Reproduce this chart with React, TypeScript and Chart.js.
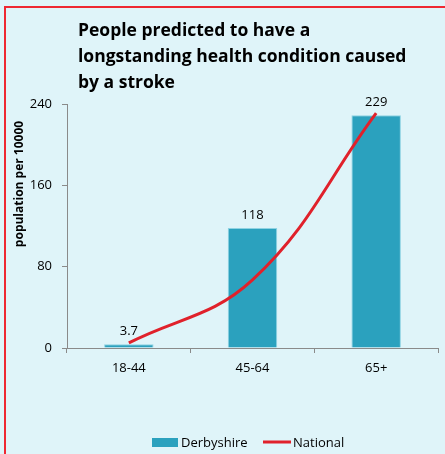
import React, { useEffect, useRef } from "react";
import { Chart, registerables } from "chart.js";

Chart.register(...registerables);

const categories = ["18-44", "45-64", "65+"];
const derbyshire = [3.7, 118, 229];
const national = [5, 67, 231];
const dataLabels = ["3.7", "118", "229"];
const titleLines = ["People predicted to have a", "longstanding health condition caused", "by a stroke"];
const yTitle = "population per 10000";
const yTicks = [0, 80, 160, 240];

const BAR = "#2ba1be";
const LINE = "#e0212b";
const FONT = "'Open Sans', Lato, sans-serif";

const overlay = {
  id: "overlay",
  afterDraw(chart: any) {
    const ctx = chart.ctx;
    ctx.save();
    // title
    ctx.fillStyle = "#000";
    ctx.font = `bold 17.5px ${FONT}`;
    ctx.textAlign = "left";
    ctx.textBaseline = "alphabetic";
    titleLines.forEach((t, i) => ctx.fillText(t, 78, 36 + i * 26));
    // y title
    ctx.save();
    ctx.translate(20, 184);
    ctx.rotate(-Math.PI / 2);
    ctx.font = `bold 12px ${FONT}`;
    ctx.textAlign = "center";
    ctx.textBaseline = "middle";
    ctx.fillText(yTitle, 0, 0);
    ctx.restore();
    // data labels
    const meta = chart.getDatasetMeta(0);
    ctx.font = `13px ${FONT}`;
    ctx.textAlign = "center";
    ctx.textBaseline = "alphabetic";
    meta.data.forEach((bar: any, i: number) => {
      ctx.fillText(dataLabels[i], bar.x, bar.y - 9);
    });
    // legend
    ctx.fillStyle = BAR;
    ctx.fillRect(152, 438, 26, 9);
    ctx.fillStyle = "#000";
    ctx.textAlign = "left";
    ctx.fillText("Derbyshire", 181, 447);
    ctx.strokeStyle = LINE;
    ctx.lineWidth = 3;
    ctx.beginPath();
    ctx.moveTo(263, 442);
    ctx.lineTo(291, 442);
    ctx.stroke();
    ctx.fillText("National", 293, 447);
    ctx.restore();
  },
};

export default function App() {
  const ref = useRef<HTMLCanvasElement>(null);
  useEffect(() => {
    const chart = new Chart(ref.current!, {
      type: "bar",
      data: {
        labels: categories,
        datasets: [
          {
            type: "bar",
            label: "Derbyshire",
            data: derbyshire,
            backgroundColor: BAR,
            borderColor: "#8fd3e3",
            borderWidth: 1,
            barPercentage: 0.4,
            categoryPercentage: 1,
            order: 2,
          },
          {
            type: "line",
            label: "National",
            data: national,
            borderColor: LINE,
            borderWidth: 3,
            pointRadius: 0,
            tension: 0.4,
            fill: false,
            order: 1,
          },
        ],
      },
      options: {
        responsive: false,
        animation: false,
        devicePixelRatio: 1,
        layout: { padding: { left: 0, top: 104, right: 7, bottom: 66 } },
        plugins: { legend: { display: false }, title: { display: false }, tooltip: { enabled: false } },
        scales: {
          x: {
            offset: true,
            grid: { drawOnChartArea: false, tickLength: 5, color: "#8a8a8a", offset: true },
            border: { color: "#8a8a8a" },
            ticks: { color: "#000", font: { family: FONT, size: 13 }, padding: 7 },
            afterFit(scale: any) {
              scale.height = 40;
            },
          },
          y: {
            min: 0,
            max: 240,
            afterBuildTicks(scale: any) {
              scale.ticks = yTicks.map((v) => ({ value: v }));
            },
            grid: { drawOnChartArea: false, tickLength: 5, color: "#8a8a8a" },
            border: { color: "#8a8a8a" },
            ticks: { color: "#000", font: { family: FONT, size: 13 }, padding: 10 },
            afterFit(scale: any) {
              scale.width = 67;
            },
          },
        },
      },
      plugins: [overlay],
    });
    return () => chart.destroy();
  }, []);
  return (
    <div style={{ position: "absolute", left: 0, top: 0, width: 445, height: 454, background: "#dff4f9", overflow: "hidden" }}>
      <div
        style={{
          position: "absolute",
          left: 4,
          top: 6,
          width: 460,
          height: 470,
          borderLeft: "2px solid #ee2832",
          borderTop: "2px solid #ee2832",
        }}
      />
      <canvas ref={ref} width={445} height={454} style={{ position: "absolute", left: 0, top: 0 }} />
    </div>
  );
}
